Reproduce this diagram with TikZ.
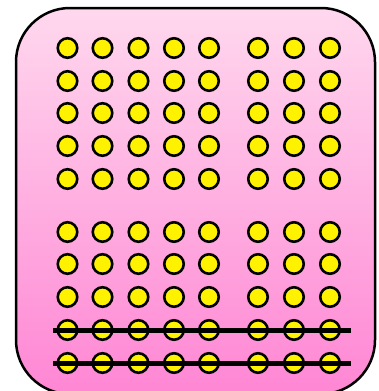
\documentclass[tikz,border=0pt]{standalone}
\begin{document}
\begin{tikzpicture}[x=1pt,y=-1pt,
  dot/.style={circle,draw=black,fill=yellow,line width=2.6pt,minimum size=19.5pt,inner sep=0pt},
  strike/.style={line width=5pt,draw=black},
  card/.style={draw=black,line width=2.5pt,rounded corners=54pt,top color=pinktop,bottom color=pinkbot}]
\definecolor{pinktop}{HTML}{FFD8EE}
\definecolor{pinkbot}{HTML}{FF86D4}
\useasboundingbox (0,0) rectangle (379,391);
\begin{scope}
\clip (0,0) rectangle (379,391);
\path[card] (16,8) rectangle (375,394);
\end{scope}
\foreach \y [count=\r] in {48,81,113,146,179,232,264,297,330,363}{
  \foreach \x [count=\c] in {67.5,102.5,138.5,174,209,258,294,330}{
    \node[dot] (c-\r-\c) at (\x,\y) {};
  }
}
\coordinate (l9) at (53,330);
\coordinate (r9) at (351,330);
\coordinate (l10) at (53,363);
\coordinate (r10) at (351,363);
\draw[strike] (l9) -- (r9);
\draw[strike] (l10) -- (r10);
\end{tikzpicture}
\end{document}
